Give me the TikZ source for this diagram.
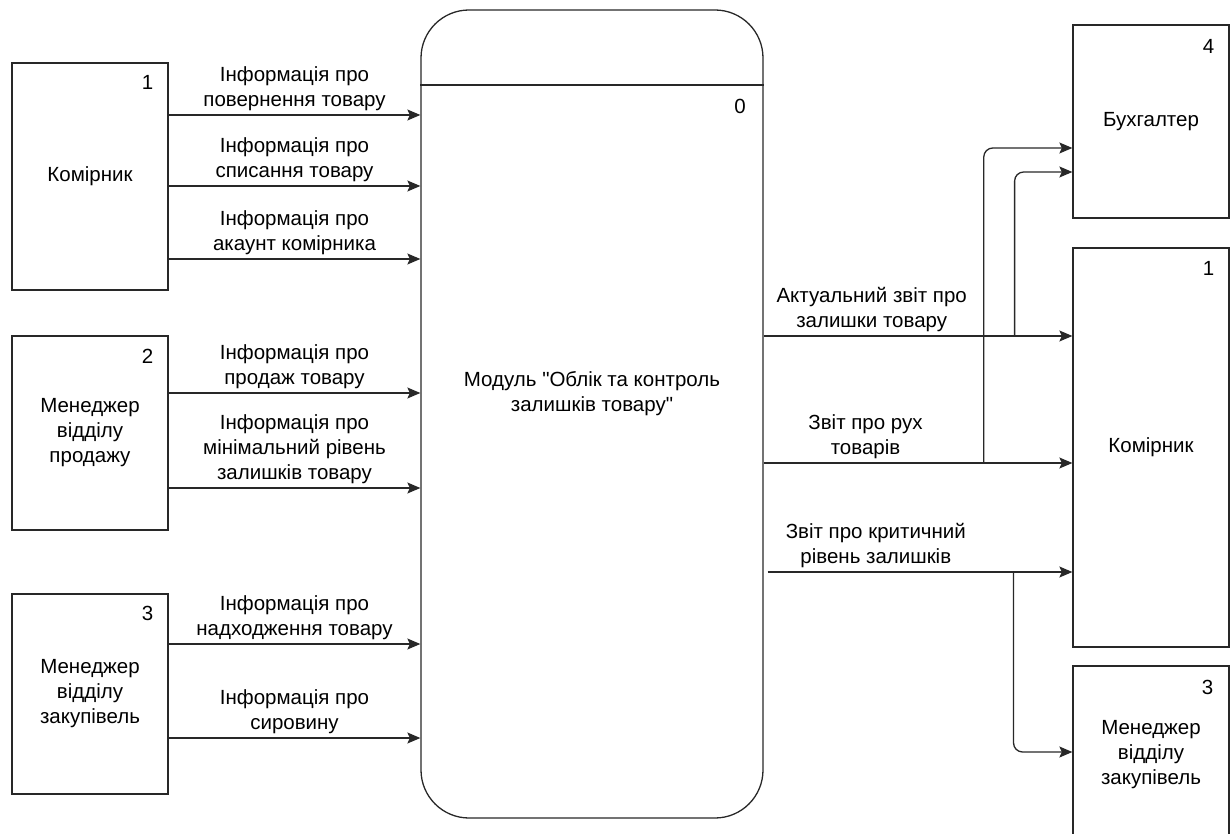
\documentclass[tikz,border=0pt]{standalone}
\usepackage{fontspec}
\setmainfont{Liberation Sans}[Ligatures=TeXOff]
\usepackage{tikz}
\usetikzlibrary{arrows.meta,positioning}
\usepackage{xcolor}
\definecolor{dfline}{RGB}{40,40,40}
\tikzstyle{entity} = [rectangle, draw=dfline, line width=1.3pt, fill=white, inner sep=0pt, align=center, text centered]
\tikzstyle{numlbl} = [inner sep=0pt]
\tikzstyle{flowlbl} = [align=center, inner sep=3.5pt]
\tikzstyle{arrow} = [line width=1.3pt, draw=dfline, -{Stealth[length=13pt,width=11pt,inset=2.5pt]}]

\begin{document}
\begin{tikzpicture}[x=1pt, y=-1pt, font=\fontsize{20.5}{25}\selectfont]
\clip (0,0) rectangle (1232,834);
% External entities (left)
\node (kom1) [entity, minimum width=156pt, minimum height=227pt] at (90,176.5) {Комірник};
\node (prod2) [entity, minimum width=156pt, minimum height=194pt] at (90,433) {Менеджер\\відділу\\продажу};
\node (zak3) [entity, minimum width=156pt, minimum height=200pt] at (90,694) {Менеджер\\відділу\\закупівель};
\node [numlbl] at ([xshift=-21pt,yshift=-20pt]kom1.north east) {1};
\node [numlbl] at ([xshift=-21pt,yshift=-21pt]prod2.north east) {2};
\node [numlbl] at ([xshift=-21pt,yshift=-20pt]zak3.north east) {3};

% Process
\node (module) [entity, rounded corners=48pt, minimum width=342pt, minimum height=808pt] at (592,414) {};
\draw[line width=1.3pt, dfline] (module.west |- 0,85) -- (module.east |- 0,85);
\node [numlbl] at (740,106) {0};
\node (modtxt) [align=center] at (592,394) {Модуль "Облік та контроль\\залишків товару"};

% External entities (right)
\node (buh4) [entity, minimum width=156pt, minimum height=193pt] at (1151,121.5) {Бухгалтер};
\node (kom1r) [entity, minimum width=156pt, minimum height=399pt] at (1151,447.5) {Комірник};
\node (zak3r) [entity, minimum width=156pt, minimum height=178pt] at (1151,755) {Менеджер\\відділу\\закупівель};
\node [numlbl] at ([xshift=-21pt,yshift=-22pt]buh4.north east) {4};
\node [numlbl] at ([xshift=-21pt,yshift=-21pt]kom1r.north east) {1};
\node [numlbl] at ([xshift=-22pt,yshift=-22pt]zak3r.north east) {3};

% Incoming flows
\draw[arrow] (kom1.east |- 0,115) -- node[flowlbl, above] {Інформація про\\повернення товару} (module.west |- 0,115);
\draw[arrow] (kom1.east |- 0,186) -- node[flowlbl, above] {Інформація про\\списання товару} (module.west |- 0,186);
\draw[arrow] (kom1.east |- 0,259) -- node[flowlbl, above] {Інформація про\\акаунт комірника} (module.west |- 0,259);
\draw[arrow] (prod2.east |- 0,393) -- node[flowlbl, above] {Інформація про\\продаж товару} (module.west |- 0,393);
\draw[arrow] (prod2.east |- 0,488) -- node[flowlbl, above] {Інформація про\\мінімальний рівень\\залишків товару} (module.west |- 0,488);
\draw[arrow] (zak3.east |- 0,644) -- node[flowlbl, above] {Інформація про\\надходження товару} (module.west |- 0,644);
\draw[arrow] (zak3.east |- 0,738) -- node[flowlbl, above] {Інформація про\\сировину} (module.west |- 0,738);

% Outgoing flows
\draw[arrow] (module.east |- 0,336) -- node[flowlbl, above, pos=0.35] {Актуальний звіт про\\залишки товару} coordinate[pos=0.813] (br1) (kom1r.west |- 0,336);
\draw[arrow] (module.east |- 0,463) -- node[flowlbl, above, pos=0.33] {Звіт про рух\\товарів} coordinate[pos=0.713] (br2) (kom1r.west |- 0,463);
\draw[arrow] ([xshift=4pt]module.east |- 0,572) -- node[flowlbl, above, pos=0.355] {Звіт про критичний\\рівень залишків} coordinate[pos=0.807] (br3) (kom1r.west |- 0,572);

% Branches
\draw[arrow, rounded corners=9pt] (br1) |- (buh4.west |- 0,172);
\draw[arrow, rounded corners=9pt] (br2) |- (buh4.west |- 0,148);
\draw[arrow, rounded corners=9pt] (br3) |- (zak3r.west |- 0,752);
\end{tikzpicture}
\end{document}
